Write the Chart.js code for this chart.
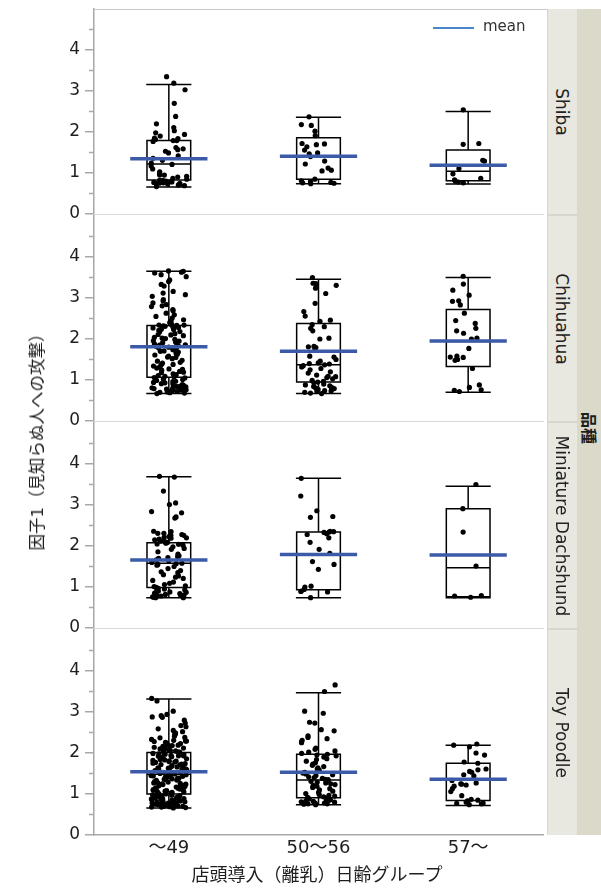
<!DOCTYPE html>
<html>
<head>
<meta charset="utf-8">
<script src="https://cdn.jsdelivr.net/npm/chart.js@4.4.1/dist/chart.umd.min.js"></script>
<style>
  html, body { margin: 0; padding: 0; background: #fff; }
  #wrap { position: relative; width: 601px; height: 889px; overflow: hidden;
          font-family: "DejaVu Sans", "Noto Sans CJK JP", sans-serif; color: #1e1e1e; }
  canvas { position: absolute; left: 0; }
  .abs { position: absolute; }
  .rot { position: absolute; white-space: nowrap; transform: translate(-50%, -50%) rotate(90deg); }
  .rotl { position: absolute; white-space: nowrap; transform: translate(-50%, -50%) rotate(-90deg); }
</style>
</head>
<body>
<div id="wrap">
  <!-- facet strips on the right -->
  <div class="abs" style="left:547px;top:9px;width:30px;height:826px;background:#d6d6cd;"></div>
  <div class="abs" style="left:577px;top:9px;width:24px;height:826px;background:#dbd9c9;"></div>
  <div id="strips"></div>
  <div class="rot" style="left:590px;top:428px;font-size:16px;font-weight:bold;font-family:'Noto Sans CJK JP',sans-serif;">品種</div>
  <!-- frame line above the first panel -->
  <div class="abs" style="left:94px;top:9px;width:453px;height:1px;background:#c9c9c9;"></div>
  <!-- axis titles -->
  <div class="rotl" style="left:36px;top:438px;font-size:16.5px;">因子1（見知らぬ人への攻撃）</div>
  <div class="abs" style="left:317px;top:873px;transform:translate(-50%,-50%);white-space:nowrap;font-size:18px;">店頭導入（離乳）日齢グループ</div>
  <!-- legend -->
  <div class="abs" style="left:433px;top:27px;width:41px;height:2px;background:#4a86c8;"></div>
  <div class="abs" style="left:483px;top:17px;font-size:15px;line-height:18px;color:#333;">mean</div>
</div>

<script>
// ---- categories ----
const ageGroups = ['～49', '50～56', '57～'];
const breeds = ['Shiba', 'Chihuahua', 'Miniature Dachshund', 'Toy Poodle'];
const yTicks = [0, 1, 2, 3, 4];
const yMinorTicks = [0.5, 1.5, 2.5, 3.5, 4.5];

// ---- factor scores per breed and age group ----
const shiba49 = [3.35, 3.19, 3.03, 2.70, 2.38, 2.20, 2.11, 2.03, 1.98, 1.94, 1.90, 1.85, 1.84, 1.82, 1.79, 1.79, 1.77,
  1.62, 1.59, 1.57, 1.53, 1.49, 1.42, 1.36, 1.31, 1.24, 1.21, 1.17, 1.10, 1.03, 0.99, 0.95, 0.95, 0.92, 0.90, 0.87,
  0.85, 0.82, 0.82, 0.80, 0.79, 0.78, 0.77, 0.76, 0.75, 0.75, 0.74, 0.73, 0.72, 0.71, 0.69, 0.67];
const shiba50 = [2.37, 2.18, 2.16, 2.02, 1.91, 1.72, 1.71, 1.69, 1.64, 1.56, 1.49, 1.47, 1.40, 1.29, 1.22, 1.12, 1.07,
  1.05, 0.85, 0.81, 0.79, 0.77, 0.76, 0.75, 0.74];
const shiba57 = [2.54, 1.72, 1.70, 1.31, 1.29, 1.11, 0.98, 0.87, 0.83, 0.80, 0.78, 0.76];

const chihuahua49 = [3.66, 3.65, 3.63, 3.61, 3.57, 3.52, 3.44, 3.40, 3.33, 3.29, 3.16, 3.12, 3.08, 3.04, 2.96, 2.93,
  2.88, 2.84, 2.81, 2.79, 2.72, 2.69, 2.63, 2.59, 2.55, 2.51, 2.47, 2.44, 2.40, 2.36, 2.35, 2.34, 2.34, 2.33,
  2.32, 2.31, 2.30, 2.28, 2.27, 2.27, 2.24, 2.23, 2.21, 2.18, 2.17, 2.13, 2.11, 2.10, 2.08, 2.04, 2.02, 2.01, 1.99,
  1.96, 1.95, 1.92, 1.91, 1.88, 1.86, 1.85, 1.84, 1.82, 1.81, 1.80, 1.78, 1.77,
  1.74, 1.71, 1.70, 1.68, 1.66, 1.63, 1.61, 1.58, 1.56, 1.55, 1.52, 1.48, 1.46, 1.43, 1.41, 1.38, 1.37, 1.34, 1.32,
  1.29, 1.27, 1.26, 1.24, 1.21, 1.19, 1.18, 1.15, 1.13, 1.11, 1.09, 1.08,
  1.06, 1.05, 1.02, 1.01, 0.99, 0.97, 0.96, 0.94, 0.93, 0.91, 0.90, 0.89, 0.87, 0.86, 0.85, 0.84, 0.83, 0.81, 0.80,
  0.79, 0.78, 0.77, 0.76, 0.76, 0.75, 0.74, 0.73, 0.72, 0.71, 0.70, 0.69, 0.68, 0.67];
const chihuahua50 = [3.50, 3.36, 3.35, 3.33, 3.31, 3.24, 3.11, 2.87, 2.67, 2.56, 2.46, 2.43, 2.35, 2.30, 2.26, 2.20,
  2.02, 2.00, 1.82, 1.81, 1.79, 1.72, 1.58, 1.56, 1.50, 1.46, 1.42, 1.40, 1.39, 1.37, 1.35, 1.32, 1.28, 1.25, 1.20,
  1.17, 1.12, 1.09, 1.08, 1.06, 1.03, 0.99, 0.97, 0.95, 0.93, 0.90, 0.88, 0.86, 0.84, 0.82, 0.80, 0.79, 0.77, 0.76,
  0.74, 0.73, 0.72, 0.70, 0.68, 0.67];
const chihuahua57 = [3.53, 3.34, 3.19, 3.07, 2.93, 2.92, 2.83, 2.63, 2.45, 2.38, 2.26, 2.20, 2.14, 2.02, 2.00, 1.77,
  1.58, 1.56, 1.55, 1.50, 1.48, 1.28, 0.88, 0.82, 0.76, 0.75, 0.72];

const dachshund49 = [3.70, 3.68, 3.34, 3.05, 3.01, 2.84, 2.81, 2.71, 2.68, 2.36, 2.35, 2.31, 2.31, 2.28, 2.26, 2.26,
  2.23, 2.21, 2.20, 2.19, 2.17, 2.15, 2.12, 2.10, 2.09, 2.07, 2.05, 2.04, 2.02, 1.98, 1.94, 1.92, 1.86, 1.80, 1.76,
  1.74, 1.72, 1.70, 1.66, 1.64, 1.60, 1.58, 1.57, 1.55, 1.53, 1.50, 1.45, 1.40, 1.37, 1.35, 1.30, 1.27, 1.24, 1.21,
  1.16, 1.12, 1.09, 1.06, 1.03, 1.01, 0.99, 0.97, 0.95, 0.93, 0.91, 0.90, 0.88, 0.87, 0.85, 0.84, 0.82, 0.81, 0.80,
  0.79, 0.78, 0.77, 0.76, 0.75, 0.74, 0.74];
const dachshund50 = [3.65, 3.22, 2.86, 2.72, 2.70, 2.36, 2.35, 2.34, 2.33, 2.30, 2.28, 2.20, 2.09, 1.92, 1.82, 1.62,
  1.55, 1.43, 1.02, 1.00, 0.94, 0.90, 0.89, 0.88, 0.74];
const dachshund57 = [3.50, 2.91, 2.34, 1.51, 0.79, 0.78, 0.75];

const poodle49 = [3.33, 3.27, 3.02, 2.94, 2.91, 2.88, 2.87, 2.80, 2.73, 2.67, 2.64, 2.59, 2.55, 2.52, 2.49, 2.46,
  2.45, 2.41, 2.38, 2.37, 2.33, 2.31, 2.29, 2.29, 2.28, 2.26, 2.24, 2.23, 2.21, 2.19, 2.18, 2.17, 2.16, 2.14, 2.12,
  2.11, 2.10, 2.09, 2.08, 2.06, 2.05, 2.04, 2.03, 2.02,
  2.00, 1.99, 1.98, 1.97, 1.96, 1.94, 1.93, 1.93, 1.92, 1.91, 1.89, 1.88, 1.87, 1.86, 1.84, 1.83, 1.82, 1.81, 1.80,
  1.79, 1.78, 1.77, 1.75, 1.74, 1.73, 1.72, 1.71, 1.69, 1.68, 1.67, 1.66, 1.64, 1.63, 1.62, 1.61, 1.60, 1.59, 1.58,
  1.57, 1.56, 1.55, 1.54, 1.53, 1.52, 1.51, 1.50, 1.49, 1.48,
  1.47, 1.46, 1.45, 1.44, 1.43, 1.42, 1.41, 1.39, 1.38, 1.37, 1.36, 1.35, 1.34, 1.33, 1.31, 1.30, 1.29, 1.28, 1.27,
  1.26, 1.25, 1.24, 1.23, 1.21, 1.20, 1.19, 1.18, 1.17, 1.16, 1.15, 1.14, 1.13, 1.12, 1.11, 1.10, 1.09, 1.08, 1.07,
  1.06, 1.05, 1.04, 1.03, 1.02, 1.01, 1.00,
  0.99, 0.98, 0.97, 0.96, 0.95, 0.94, 0.93, 0.92, 0.91, 0.90, 0.89, 0.88, 0.88, 0.87, 0.86, 0.85, 0.84, 0.84, 0.83,
  0.82, 0.81, 0.80, 0.80, 0.79, 0.78, 0.78, 0.77, 0.77, 0.76, 0.75, 0.75, 0.74, 0.74, 0.73, 0.72, 0.72, 0.71, 0.70,
  0.70, 0.69, 0.68, 0.68, 0.67, 0.66];
const poodle50 = [3.66, 3.50, 3.02, 2.97, 2.75, 2.73, 2.57, 2.54, 2.42, 2.38, 2.35, 2.31, 2.27, 2.25, 2.12, 2.09,
  2.05, 2.02, 1.99, 1.97, 1.95, 1.93, 1.90, 1.86, 1.84, 1.80, 1.76, 1.73, 1.70, 1.67, 1.64, 1.61, 1.58, 1.55, 1.53,
  1.51, 1.49, 1.47, 1.45, 1.42, 1.40, 1.38, 1.36, 1.35, 1.33, 1.31, 1.29, 1.27, 1.25, 1.23, 1.21, 1.19, 1.16, 1.13,
  1.10, 1.07, 1.04, 1.01, 0.99, 0.97, 0.95, 0.93, 0.92, 0.90, 0.89, 0.88, 0.86, 0.85, 0.84, 0.83, 0.82, 0.81, 0.80,
  0.79, 0.78, 0.78, 0.77, 0.76, 0.76, 0.75, 0.74];
const poodle57 = [2.22, 2.19, 2.15, 2.00, 1.95, 1.78, 1.75, 1.61, 1.59, 1.55, 1.53, 1.47, 1.44, 1.33, 1.27, 1.25,
  1.24, 1.22, 1.19, 1.13, 1.06, 0.96, 0.87, 0.85, 0.83, 0.80, 0.78, 0.77, 0.76, 0.74];

// ---- box-plot summaries (rows: breeds, columns: age groups) ----
const whiskerHigh = [[3.16, 2.36, 2.50], [3.65, 3.46, 3.50], [3.69, 3.65, 3.46], [3.32, 3.47, 2.19]];
const boxQ3       = [[1.79, 1.86, 1.56], [2.33, 2.38, 2.72], [2.08, 2.34, 2.91], [2.01, 1.97, 1.75]];
const boxMedian   = [[1.22, 1.40, 1.04], [1.80, 1.37, 1.94], [1.58, 1.79, 1.47], [1.48, 1.34, 1.36]];
const boxQ1       = [[0.83, 0.85, 0.81], [1.07, 0.95, 1.33], [0.99, 0.93, 0.76], [1.00, 0.91, 0.84]];
const whiskerLow  = [[0.66, 0.74, 0.73], [0.67, 0.67, 0.70], [0.74, 0.74, 0.74], [0.66, 0.74, 0.72]];
const groupMean   = [[1.35, 1.41, 1.19], [1.81, 1.70, 1.95], [1.66, 1.79, 1.78], [1.54, 1.53, 1.36]];

const panelValues = [
  [shiba49, shiba50, shiba57],
  [chihuahua49, chihuahua50, chihuahua57],
  [dachshund49, dachshund50, dachshund57],
  [poodle49, poodle50, poodle57]
];

// ---- layout ----
const PANEL_TOPS = [9, 216, 423, 630];
const PANEL_H = 205;
const PAD = 12;
const AXIS_W = 94;
const CANVAS_W = 547;
const X_AXIS_H = 54;
const BOX_HALF = 0.146;
const MEAN_HALF = 0.258;
const SPREAD = 0.12;
const FONT = '"DejaVu Sans", "Noto Sans CJK JP", sans-serif';
const AXIS_GREY = '#a8a8a8';

// deterministic horizontal jitter so points in a group do not sit on top of each other
function spread(i, g, b) {
  const s = Math.sin((i + 1) * 12.9898 + (g + 1) * 78.233 + (b + 1) * 37.719) * 43758.5453;
  return ((s - Math.floor(s)) - 0.5) * 2 * SPREAD;
}

const minorTicks = {
  id: 'minorTicks',
  afterDraw(chart) {
    const y = chart.scales.y, ctx = chart.ctx;
    ctx.save();
    ctx.strokeStyle = AXIS_GREY;
    ctx.lineWidth = 1.5;
    yMinorTicks.forEach(v => {
      const py = y.getPixelForValue(v);
      ctx.beginPath();
      ctx.moveTo(y.right - 5, py);
      ctx.lineTo(y.right, py);
      ctx.stroke();
    });
    ctx.restore();
  }
};

const wrap = document.getElementById('wrap');
const strips = document.getElementById('strips');

breeds.forEach((breed, b) => {
  const top = PANEL_TOPS[b];
  const last = b === breeds.length - 1;

  // strip for this breed
  const s = document.createElement('div');
  s.className = 'abs';
  s.style.cssText = `left:548px;top:${top}px;width:29px;height:${PANEL_H}px;background:#e8e8e0;`;
  strips.appendChild(s);
  const t = document.createElement('div');
  t.className = 'rot';
  t.style.cssText = `left:562px;top:${top + PANEL_H / 2}px;font-size:17px;color:#222;`;
  t.textContent = breed;
  strips.appendChild(t);

  // canvas
  const cv = document.createElement('canvas');
  const bottomH = last ? X_AXIS_H : PAD;
  const h = PAD + PANEL_H + bottomH;
  cv.width = CANVAS_W; cv.height = h;
  cv.style.width = CANVAS_W + 'px'; cv.style.height = h + 'px';
  cv.style.top = (top - PAD) + 'px';
  wrap.insertBefore(cv, wrap.firstChild);

  const pts = [], means = [], box = [];
  const gap = c => ({ x: c, y: null });
  for (let g = 0; g < ageGroups.length; g++) {
    const c = g + 0.5;
    panelValues[b][g].forEach((v, i) => pts.push({ x: c + spread(i, g, b), y: v }));
    const mu = groupMean[b][g];
    means.push({ x: c - MEAN_HALF, y: mu }, { x: c + MEAN_HALF, y: mu }, gap(c));
    const lo = whiskerLow[b][g], q1 = boxQ1[b][g], md = boxMedian[b][g], q3 = boxQ3[b][g], hi = whiskerHigh[b][g];
    const l = c - BOX_HALF, r = c + BOX_HALF;
    box.push({ x: l, y: q1 }, { x: r, y: q1 }, { x: r, y: q3 }, { x: l, y: q3 }, { x: l, y: q1 }, gap(c));
    box.push({ x: l, y: md }, { x: r, y: md }, gap(c));
    box.push({ x: c, y: q3 }, { x: c, y: hi }, gap(c));
    box.push({ x: l, y: hi }, { x: r, y: hi }, gap(c));
    box.push({ x: c, y: q1 }, { x: c, y: lo }, gap(c));
    box.push({ x: l, y: lo }, { x: r, y: lo }, gap(c));
  }

  new Chart(cv, {
    type: 'scatter',
    data: {
      datasets: [
        { label: 'mean', data: means, showLine: true, borderColor: '#3b5ba9', borderWidth: 3.5,
          pointRadius: 0, borderCapStyle: 'butt', spanGaps: false, order: 0 },
        { label: 'points', data: pts, pointRadius: 2.6, pointBackgroundColor: '#000',
          pointBorderWidth: 0, showLine: false, order: 1 },
        { label: 'box', data: box, showLine: true, borderColor: '#000', borderWidth: 1.5,
          pointRadius: 0, borderJoinStyle: 'miter', borderCapStyle: 'square', spanGaps: false, order: 2 }
      ]
    },
    options: {
      responsive: false,
      animation: false,
      devicePixelRatio: 1,
      events: [],
      layout: { padding: { top: PAD, right: 0, bottom: 0, left: 0 } },
      plugins: { legend: { display: false }, tooltip: { enabled: false } },
      scales: {
        x: {
          type: 'linear', min: 0, max: 3,
          afterBuildTicks: sc => { sc.ticks = [0.5, 1.5, 2.5].map(v => ({ value: v })); },
          afterFit: sc => { sc.height = bottomH; sc.paddingLeft = 0; sc.paddingRight = 0; },
          grid: { display: true, drawOnChartArea: false, drawTicks: false },
          border: { display: true, color: last ? AXIS_GREY : '#d9d9d9', width: last ? 1.5 : 1 },
          ticks: {
            display: last, padding: 3, color: '#1e1e1e', font: { family: FONT, size: 18 },
            callback: (v, i) => ageGroups[i]
          }
        },
        y: {
          type: 'linear', min: 0, max: 5,
          afterBuildTicks: sc => { sc.ticks = yTicks.map(v => ({ value: v })); },
          afterFit: sc => { sc.width = AXIS_W; sc.paddingTop = 0; sc.paddingBottom = 0; },
          grid: { drawOnChartArea: false, drawTicks: true, tickLength: 9, tickColor: AXIS_GREY, lineWidth: 1.5 },
          border: { display: true, color: AXIS_GREY, width: 1.5 },
          ticks: { padding: 5, color: '#1e1e1e', font: { family: FONT, size: 17 }, callback: v => String(v) }
        }
      }
    },
    plugins: [minorTicks]
  });
});
</script>
</body>
</html>
